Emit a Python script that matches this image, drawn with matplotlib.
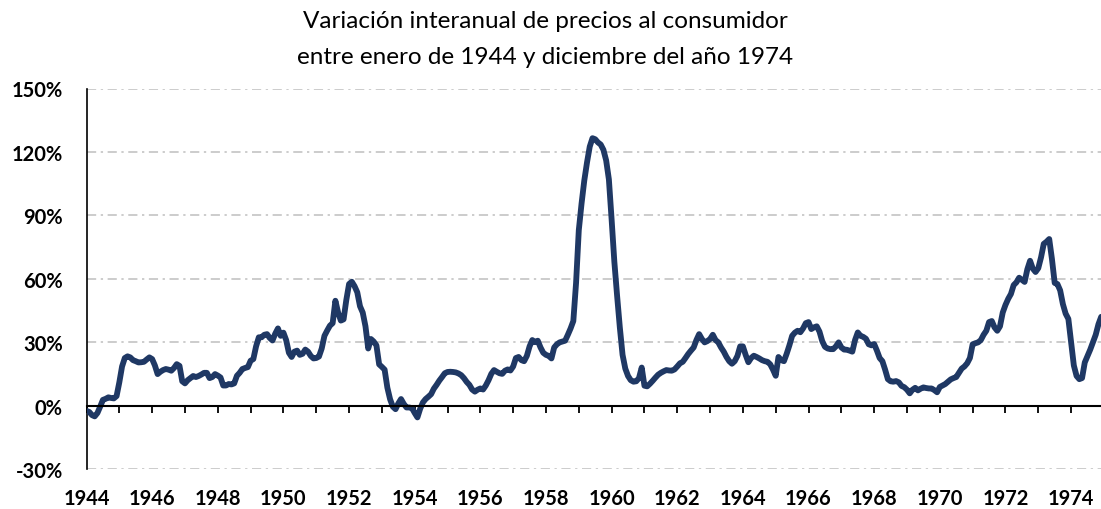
import matplotlib
matplotlib.use("Agg")
import matplotlib.pyplot as plt
import numpy as np

plt.rcParams['font.family'] = ['Lato', 'DejaVu Sans']

# Variación interanual mensual (%), enero 1944 - diciembre 1974
v1944 = [-2.5, -3.0, -4.5, -5.1, -3.5, -0.5, 2.7, 3.2, 3.9, 3.6, 3.4, 4.5]
v1945 = [11.0, 18.5, 22.5, 23.3, 22.8, 21.5, 21.0, 20.4, 20.5, 20.7, 21.8, 22.8]
v1946 = [22.0, 19.0, 14.9, 16.0, 16.8, 17.3, 17.0, 16.5, 17.8, 19.6, 18.8, 11.5]
v1947 = [10.5, 12.0, 13.0, 14.0, 13.5, 14.0, 14.7, 15.5, 15.5, 13.0, 13.5, 14.9]
v1948 = [14.2, 13.3, 9.5, 9.5, 10.2, 10.0, 10.5, 14.1, 15.5, 17.3, 17.8, 18.2]
v1949 = [21.2, 22.0, 28.0, 32.3, 32.3, 33.5, 33.8, 32.0, 30.8, 34.0, 36.5, 33.0]
v1950 = [34.5, 31.0, 25.0, 23.0, 25.5, 26.0, 24.0, 24.5, 26.5, 25.5, 23.5, 22.3]
v1951 = [22.5, 23.2, 27.0, 33.0, 35.5, 37.8, 39.0, 49.6, 44.0, 40.2, 40.8, 50.0]
v1952 = [57.5, 58.6, 56.5, 53.6, 47.0, 44.0, 37.5, 27.0, 31.5, 30.3, 28.5, 19.5]
v1953 = [18.3, 17.0, 8.5, 3.0, -0.5, -1.7, 1.0, 3.1, 0.8, -0.9, -0.9, -1.2]
v1954 = [-3.5, -5.6, -1.5, 1.5, 3.1, 4.2, 5.4, 8.0, 9.8, 11.8, 13.5, 15.3]
v1955 = [15.9, 16.0, 15.9, 15.7, 15.2, 14.4, 13.0, 11.2, 9.8, 7.6, 6.6, 7.5]
v1956 = [8.1, 7.6, 9.5, 12.0, 15.0, 16.8, 16.0, 15.3, 15.0, 16.5, 17.1, 16.6]
v1957 = [18.5, 22.5, 23.0, 21.5, 21.0, 23.5, 28.0, 31.0, 30.0, 30.7, 27.5, 25.0]
v1958 = [24.0, 23.5, 22.3, 27.5, 29.0, 29.9, 30.3, 30.7, 33.5, 36.5, 40.0, 58.0]
v1959 = [83.0, 95.5, 106.4, 115.0, 122.5, 126.5, 126.0, 124.5, 123.5, 121.0, 116.0, 107.0]
v1960 = [88.0, 68.0, 52.0, 37.0, 24.0, 17.5, 14.0, 12.0, 11.3, 11.5, 13.0, 18.0]
v1961 = [9.4, 9.1, 10.3, 11.7, 13.2, 14.6, 15.5, 16.2, 16.8, 16.6, 16.5, 17.1]
v1962 = [18.5, 20.0, 20.7, 22.5, 24.4, 26.0, 27.5, 31.0, 33.8, 31.5, 29.9, 30.5]
v1963 = [31.5, 33.5, 31.0, 29.9, 27.5, 25.5, 23.0, 21.0, 19.8, 21.0, 23.5, 28.0]
v1964 = [28.0, 24.0, 20.5, 22.5, 23.6, 23.0, 22.3, 21.5, 21.0, 20.7, 19.5, 17.0]
v1965 = [14.1, 23.0, 21.5, 21.0, 24.5, 28.5, 33.0, 34.5, 35.4, 34.7, 36.5, 39.0]
v1966 = [39.5, 36.2, 37.0, 37.5, 35.0, 30.5, 27.8, 27.0, 26.7, 26.7, 28.0, 29.9]
v1967 = [27.5, 26.5, 26.4, 26.0, 25.5, 31.0, 34.6, 33.0, 32.5, 31.6, 29.0, 28.5]
v1968 = [29.1, 26.0, 22.5, 21.0, 17.0, 12.5, 11.5, 11.3, 11.6, 11.0, 9.3, 8.7]
v1969 = [7.5, 5.8, 7.5, 8.4, 7.2, 8.0, 8.6, 8.3, 8.1, 8.1, 7.3, 6.3]
v1970 = [8.8, 9.5, 10.2, 11.3, 12.4, 13.0, 13.5, 15.5, 17.5, 18.5, 20.0, 22.5]
v1971 = [29.0, 29.5, 29.9, 31.0, 33.5, 35.4, 39.5, 40.0, 37.0, 35.4, 37.5, 44.0]
v1972 = [47.6, 50.5, 52.8, 57.0, 58.3, 60.5, 59.5, 58.5, 64.5, 68.5, 64.8, 63.2]
v1973 = [65.0, 70.1, 76.5, 77.5, 78.8, 69.3, 58.0, 57.5, 54.5, 48.0, 43.5, 41.0]
v1974 = [29.9, 19.0, 14.0, 12.5, 13.0, 20.4, 23.5, 26.5, 30.0, 33.5, 38.5, 42.0]

valores = (v1944 + v1945 + v1946 + v1947 + v1948 + v1949 + v1950 + v1951 + v1952
           + v1953 + v1954 + v1955 + v1956 + v1957 + v1958 + v1959 + v1960 + v1961
           + v1962 + v1963 + v1964 + v1965 + v1966 + v1967 + v1968 + v1969 + v1970
           + v1971 + v1972 + v1973 + v1974)
fechas = 1944 + np.arange(len(valores)) / 12

anios_tick = list(range(1944, 1975))
anios_label = list(range(1944, 1975, 2))
y_ticks = [-30, 0, 30, 60, 90, 120, 150]

W, H = 1101, 510
fig = plt.figure(figsize=(W / 100, H / 100), dpi=100)
ax = fig.add_axes([86.5 / W, 1 - 470 / H, (W - 86.5) / W, (470 - 89.5) / H])

ax.plot(fechas, valores, color='#1F3864', linewidth=4.2, solid_joinstyle='round',
        solid_capstyle='round', zorder=3)

ax.set_xlim(1944, 1944 + (W - 86.5) / 32.82)
ax.set_ylim(-30, 150)
ax.set_yticks(y_ticks)
ax.set_yticklabels([f"{v}%" for v in y_ticks], fontsize=14.5, fontweight='bold')
ax.tick_params(axis='y', length=0, pad=17)

ax.grid(axis='y', color='#BFBFBF', linewidth=1.1, linestyle=(0, (6, 3, 1.5, 3)))
ax.set_axisbelow(True)

for s in ['top', 'right']:
    ax.spines[s].set_visible(False)
ax.spines['left'].set_linewidth(1.2)
ax.spines['bottom'].set_position(('data', 0))
ax.spines['bottom'].set_linewidth(1.5)
ax.spines['bottom'].set_zorder(4)

ax.set_xticks(anios_tick)
ax.tick_params(axis='x', direction='out', length=5, width=1.3, labelbottom=False)

sec = ax.secondary_xaxis(0)
sec.set_xticks(anios_label)
sec.set_xticklabels([str(a) for a in anios_label], fontsize=14.5, fontweight='bold')
sec.tick_params(length=0, pad=14)
sec.spines['bottom'].set_visible(False)

fig.text(545 / W, 1 - 22 / H, "Variación interanual de precios al consumidor",
         ha='center', va='center', fontsize=17.5)
fig.text(545 / W, 1 - 58 / H, "entre enero de 1944 y diciembre del año 1974",
         ha='center', va='center', fontsize=17.5)

fig.savefig('out.png', dpi=100)
